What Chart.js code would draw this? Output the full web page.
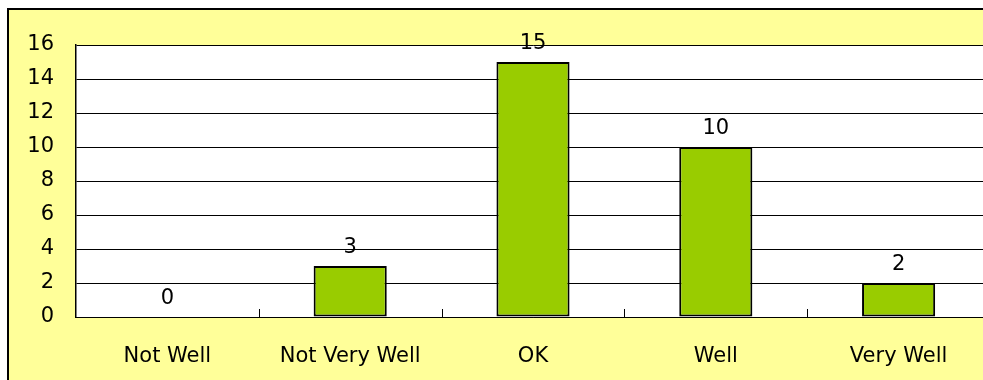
<!DOCTYPE html>
<html>
<head>
<meta charset="utf-8">
<script src="https://cdn.jsdelivr.net/npm/chart.js@4"></script>
<style>
    html, body { margin: 0; padding: 0; background: #fff; overflow: hidden; width: 983px; height: 380px; }
    #frame { position: absolute; left: 7px; top: 8px; width: 1010px; height: 400px; border: 2px solid #000; background: #FFFF99; }
    #wrap { position: absolute; left: 0; top: 0; width: 1008px; height: 380px; }
</style>
</head>
<body>
<div id="frame"></div>
<div id="wrap"><canvas id="chart"></canvas></div>
<script>
const categories = ['Not Well', 'Not Very Well', 'OK', 'Well', 'Very Well'];
const counts = [0, 3, 15, 10, 2];
const yTicks = [0, 2, 4, 6, 8, 10, 12, 14, 16];

const FONT = { family: '"DejaVu Sans", sans-serif', size: 21 };

// white plot area, value labels and the little category ticks
const plotDecor = {
    id: 'plotDecor',
    beforeDraw(chart) {
        const a = chart.chartArea;
        const ctx = chart.ctx;
        ctx.save();
        ctx.fillStyle = '#fff';
        ctx.fillRect(a.left, a.top, a.right - a.left, a.bottom - a.top);
        ctx.restore();
    },
    afterDraw(chart) {
        const ctx = chart.ctx;
        const x = chart.scales.x;
        const y = chart.scales.y;
        ctx.save();
        // category separators, pointing up into the plot
        ctx.strokeStyle = '#000';
        ctx.lineWidth = 1;
        for (let i = 1; i < categories.length; i++) {
            const px = Math.round((x.getPixelForValue(i - 1) + x.getPixelForValue(i)) / 2) + 0.5;
            ctx.beginPath();
            ctx.moveTo(px, y.bottom);
            ctx.lineTo(px, y.bottom - 8);
            ctx.stroke();
        }
        // value labels
        ctx.fillStyle = '#000';
        ctx.font = FONT.size + 'px ' + FONT.family;
        ctx.textAlign = 'center';
        ctx.textBaseline = 'alphabetic';
        chart.getDatasetMeta(0).data.forEach((bar, i) => {
            ctx.fillText(String(counts[i]), bar.x, y.getPixelForValue(counts[i]) - 13);
        });
        ctx.restore();
    }
};

new Chart(document.getElementById('chart'), {
    type: 'bar',
    data: {
        labels: categories,
        datasets: [{
            data: counts,
            backgroundColor: '#99CC00',
            borderColor: '#000',
            borderWidth: 2,
            borderSkipped: false,
            barPercentage: 0.4,
            categoryPercentage: 1
        }]
    },
    options: {
        responsive: true,
        maintainAspectRatio: false,
        animation: false,
        layout: { padding: { left: 0, top: 45, right: 18, bottom: 0 } },
        plugins: { legend: { display: false }, tooltip: { enabled: false } },
        scales: {
            x: {
                grid: { display: false },
                border: { display: true, color: '#000', width: 1 },
                ticks: { color: '#000', font: FONT, padding: 19, maxRotation: 0 },
                afterFit: s => { s.height = 63; }
            },
            y: {
                min: 0,
                max: 16,
                afterBuildTicks: s => { s.ticks = yTicks.map(v => ({ value: v })); },
                grid: { color: '#000', lineWidth: 1, drawTicks: false },
                border: { display: true, color: '#000', width: 1.5 },
                ticks: { color: '#000', font: FONT, padding: 22 },
                afterFit: s => { s.width = 76; }
            }
        }
    },
    plugins: [plotDecor]
});
</script>
</body>
</html>
